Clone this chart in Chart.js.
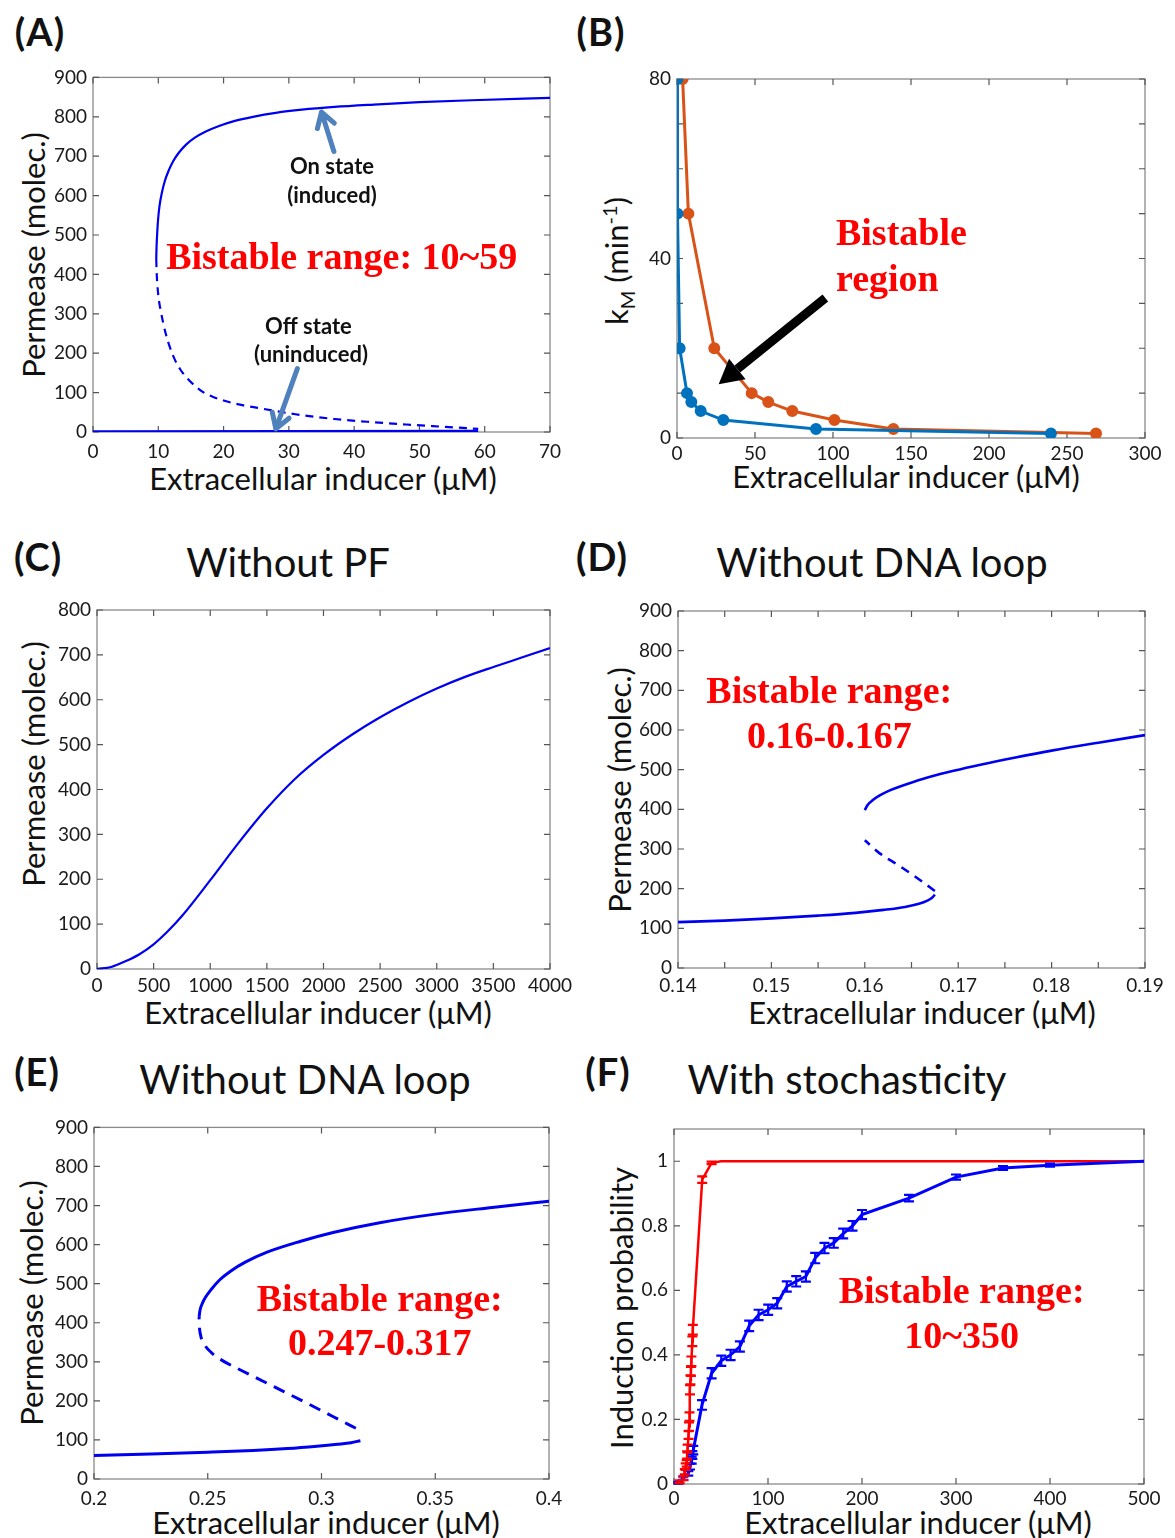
<!DOCTYPE html>
<html lang="en">
<head>
<meta charset="UTF-8">
<title>Bistability panels</title>
<script src="https://cdn.jsdelivr.net/npm/chart.js"></script>
<style>
  body { margin: 0; background: #fff; width: 1175px; height: 1538px; position: relative; overflow: hidden;
         font-family: Lato, "Open Sans", sans-serif; color: #111; }
  canvas { position: absolute; }
  .lbl { position: absolute; white-space: nowrap; transform: translate(-50%, -50%); line-height: 1; }
  .panel { font-weight: bold; font-size: 38px; letter-spacing: 1px; }
  .ttl { font-size: 40px; }
  .xt { font-size: 31px; }
  .yt { font-size: 31px; transform: translate(-50%, -50%) rotate(-90deg); }
  .yt sub, .yt sup { font-size: 20px; }
</style>
</head>
<body>

<div class="lbl panel" style="left:40px;top:31px">(A)</div>
<div class="lbl panel" style="left:601px;top:31px">(B)</div>
<div class="lbl panel" style="left:38px;top:556px">(C)</div>
<div class="lbl panel" style="left:602px;top:556px">(D)</div>
<div class="lbl panel" style="left:37px;top:1071px">(E)</div>
<div class="lbl panel" style="left:608px;top:1071px">(F)</div>

<div class="lbl ttl" style="left:288px;top:562px">Without PF</div>
<div class="lbl ttl" style="left:882px;top:562px">Without DNA loop</div>
<div class="lbl ttl" style="left:305px;top:1079px">Without DNA loop</div>
<div class="lbl ttl" style="left:847px;top:1079px">With stochasticity</div>

<div class="lbl xt" style="left:323px;top:478px">Extracellular inducer (μM)</div>
<div class="lbl xt" style="left:906px;top:476px">Extracellular inducer (μM)</div>
<div class="lbl xt" style="left:318px;top:1012px">Extracellular inducer (μM)</div>
<div class="lbl xt" style="left:922px;top:1012px">Extracellular inducer (μM)</div>
<div class="lbl xt" style="left:326px;top:1522px">Extracellular inducer (μM)</div>
<div class="lbl xt" style="left:918px;top:1522px">Extracellular inducer (μM)</div>

<div class="lbl yt" style="left:33px;top:255px">Permease (molec.)</div>
<div class="lbl yt" style="left:618px;top:261px">k<sub>M</sub> (min<sup>-1</sup>)</div>
<div class="lbl yt" style="left:33px;top:764px">Permease (molec.)</div>
<div class="lbl yt" style="left:619px;top:790px">Permease (molec.)</div>
<div class="lbl yt" style="left:31px;top:1303px">Permease (molec.)</div>
<div class="lbl yt" style="left:621px;top:1308px">Induction probability</div>

<canvas id="chartA"></canvas>
<canvas id="chartB"></canvas>
<canvas id="chartC"></canvas>
<canvas id="chartD"></canvas>
<canvas id="chartE"></canvas>
<canvas id="chartF"></canvas>

<script>
// ---------- data ----------

// (A) with DNA loop + PF
const aTicksX = [0, 10, 20, 30, 40, 50, 60, 70];
const aLabelsX = ['0', '10', '20', '30', '40', '50', '60', '70'];
const aTicksY = [0, 100, 200, 300, 400, 500, 600, 700, 800, 900];
const aLabelsY = ['0', '100', '200', '300', '400', '500', '600', '700', '800', '900'];
const aOnX = [9.69, 9.72, 9.78, 9.85, 10.0, 10.2, 10.55, 11.0, 11.6, 12.3, 13.2, 14.3, 15.6, 17.2, 19.2, 21.6, 24.5, 28, 32, 37, 43, 50, 58, 70];
const aOnY = [439, 462, 487, 510, 545, 575, 607, 637, 664, 688, 710, 730, 747, 762, 776, 789, 800, 810, 818, 825, 831, 837, 842, 848];
const aUnstX = [9.69, 9.75, 9.85, 10.05, 10.36, 10.75, 11.2, 11.8, 12.5, 13.4, 14.5, 15.7, 17, 18.4, 20, 22.3, 25, 28, 31, 34, 37, 42, 48, 54, 59];
const aUnstY = [439, 405, 376, 340, 309, 277, 246, 214, 185, 158, 135, 116, 100, 89, 80, 70, 62, 53, 45, 38.5, 33, 26, 19, 13, 8];
const aOffX = [0, 30, 59];
const aOffY = [1.5, 2, 3];

// (B) kM vs inducer, two boundary curves
const bTicksX = [0, 50, 100, 150, 200, 250, 300];
const bLabelsX = ['0', '50', '100', '150', '200', '250', '300'];
const bTicksY = [0, 10, 20, 30, 40, 50, 60, 70, 80];
const bLabelsY = ['0', '', '', '', '40', '', '', '', '80'];
const bKm = [80, 50, 20, 10, 8, 6, 4, 2, 1];
const bBlueX = [0.3, 0.3, 1.7, 6.4, 9.2, 15.2, 29.7, 89.1, 239.7];
const bOrangeX = [3.6, 7.3, 23.9, 47.9, 58.5, 73.9, 100.9, 138.7, 268.6];

// (C) without positive feedback
const cTicksX = [0, 500, 1000, 1500, 2000, 2500, 3000, 3500, 4000];
const cLabelsX = ['0', '500', '1000', '1500', '2000', '2500', '3000', '3500', '4000'];
const cTicksY = [0, 100, 200, 300, 400, 500, 600, 700, 800];
const cLabelsY = ['0', '100', '200', '300', '400', '500', '600', '700', '800'];
const cX = [0, 125, 250, 375, 500, 625, 750, 1000, 1250, 1500, 1750, 2000, 2250, 2500, 2750, 3000, 3250, 3500, 3750, 4000];
const cY = [0, 4.5, 17, 33, 55, 84, 118, 198, 281, 358, 424, 477, 522, 561, 595, 625, 651, 673, 694, 715];

// (D) without DNA loop
const dTicksX = [0.14, 0.145, 0.15, 0.155, 0.16, 0.165, 0.17, 0.175, 0.18, 0.185, 0.19];
const dLabelsX = ['0.14', '', '0.15', '', '0.16', '', '0.17', '', '0.18', '', '0.19'];
const dTicksY = [0, 100, 200, 300, 400, 500, 600, 700, 800, 900];
const dLabelsY = ['0', '100', '200', '300', '400', '500', '600', '700', '800', '900'];
const dLowX = [0.14, 0.145, 0.15, 0.155, 0.159, 0.162, 0.1643, 0.1658, 0.1667, 0.1672, 0.1675];
const dLowY = [115.6, 119.5, 125, 132, 139, 146.5, 154, 162, 170, 177, 185];
const dUnstX = [0.1675, 0.1659, 0.1638, 0.1616, 0.16];
const dUnstY = [194, 222, 256, 289, 322];
const dUpX = [0.16, 0.1603, 0.1609, 0.1616, 0.1625, 0.1637, 0.1652, 0.167, 0.1695, 0.1725, 0.176, 0.18, 0.185, 0.19];
const dUpY = [398, 411, 424, 435, 446, 457, 469, 482, 497, 513, 530, 548, 568, 587];

// (E) without DNA loop, second parameter set
const eTicksX = [0.2, 0.25, 0.3, 0.35, 0.4];
const eLabelsX = ['0.2', '0.25', '0.3', '0.35', '0.4'];
const eTicksY = [0, 100, 200, 300, 400, 500, 600, 700, 800, 900];
const eLabelsY = ['0', '100', '200', '300', '400', '500', '600', '700', '800', '900'];
const eLowX = [0.2, 0.225, 0.25, 0.27, 0.285, 0.298, 0.307, 0.313, 0.3171];
const eLowY = [60.4, 64, 68.5, 73, 78, 84, 89, 93, 98];
const eUnstX = [0.3151, 0.305, 0.294, 0.283, 0.272, 0.263, 0.2565, 0.2517, 0.2485, 0.2468, 0.2463, 0.2462];
const eUnstY = [130, 160, 193, 225, 257, 283, 303, 323, 345, 370, 395, 415];
const eUpX = [0.2462, 0.2466, 0.2475, 0.249, 0.2515, 0.2553, 0.26, 0.2665, 0.2758, 0.2905, 0.3051, 0.3256, 0.35, 0.375, 0.4];
const eUpY = [415, 432, 448, 465, 485, 510, 532, 555, 580, 608, 631, 656, 678, 695, 711];

// (F) stochastic simulation
const fTicksX = [0, 100, 200, 300, 400, 500];
const fLabelsX = ['0', '100', '200', '300', '400', '500'];
const fTicksY = [0, 0.2, 0.4, 0.6, 0.8, 1];
const fLabelsY = ['0', '0.2', '0.4', '0.6', '0.8', '1'];
const fRedX = [0, 6, 10, 11.5, 12.5, 13.5, 14, 14.5, 15.5, 16, 16.5, 17, 17.5, 18, 18.5, 19.5, 20, 30, 40, 50, 500];
const fRedY = [0, 0.007, 0.018, 0.038, 0.054, 0.064, 0.09, 0.11, 0.152, 0.178, 0.209, 0.292, 0.323, 0.349, 0.38, 0.442, 0.478, 0.943, 0.995, 1, 1];
const fRedErr = [0, 0.004, 0.006, 0.008, 0.01, 0.01, 0.011, 0.012, 0.012, 0.013, 0.013, 0.014, 0.014, 0.014, 0.015, 0.015, 0.015, 0.01, 0.004, 0, 0];
const fBlueX = [0, 4.6, 9.9, 15.2, 17, 18.8, 19.5, 20.5, 29.8, 40, 50.3, 60.2, 70.1, 80, 90, 100.2, 109.8, 120, 130, 140.3, 150.2, 160.1, 170, 180, 189.9, 200, 250, 300, 350, 400, 500];
const fBlueY = [0, 0.004, 0.018, 0.033, 0.054, 0.074, 0.09, 0.105, 0.245, 0.343, 0.382, 0.4, 0.426, 0.49, 0.524, 0.54, 0.56, 0.612, 0.628, 0.643, 0.7, 0.731, 0.747, 0.776, 0.8, 0.835, 0.886, 0.951, 0.979, 0.988, 1];
const fBlueErr = [0, 0.003, 0.005, 0.007, 0.009, 0.011, 0.012, 0.013, 0.015, 0.016, 0.016, 0.016, 0.016, 0.016, 0.016, 0.016, 0.016, 0.016, 0.016, 0.016, 0.016, 0.016, 0.015, 0.015, 0.015, 0.014, 0.01, 0.008, 0.006, 0.005, 0];

// ---------- plugins ----------

// MATLAB like box with inward ticks on all 4 sides
const boxPlugin = {
  id: 'matlabBox',
  beforeDatasetsDraw(chart) {
    const { ctx, chartArea: a, scales: { x, y } } = chart;
    ctx.save();
    ctx.strokeStyle = '#8a8a8a';
    ctx.lineWidth = 1.3;
    ctx.strokeRect(a.left, a.top, a.right - a.left, a.bottom - a.top);
    ctx.strokeStyle = '#555';
    ctx.lineWidth = 1.2;
    ctx.beginPath();
    x.ticks.forEach(t => {
      const px = x.getPixelForValue(t.value);
      ctx.moveTo(px, a.bottom); ctx.lineTo(px, a.bottom - 6);
      ctx.moveTo(px, a.top); ctx.lineTo(px, a.top + 6);
    });
    y.ticks.forEach(t => {
      const py = y.getPixelForValue(t.value);
      ctx.moveTo(a.left, py); ctx.lineTo(a.left + 6, py);
      ctx.moveTo(a.right, py); ctx.lineTo(a.right - 6, py);
    });
    ctx.stroke();
    ctx.restore();
  }
};

// vertical error bars, values kept in dataset.errY
const errorBarPlugin = {
  id: 'errBars',
  afterDatasetsDraw(chart) {
    const ctx = chart.ctx, ys = chart.scales.y;
    chart.data.datasets.forEach((ds, i) => {
      if (!ds.errY) return;
      const meta = chart.getDatasetMeta(i);
      ctx.save();
      ctx.strokeStyle = ds.borderColor;
      ctx.lineWidth = 2.2;
      meta.data.forEach((pt, j) => {
        const e = ds.errY[j];
        if (!e) return;
        const v = ds.data[j].y;
        const y1 = ys.getPixelForValue(v - e), y2 = ys.getPixelForValue(v + e);
        const w = 5;
        ctx.beginPath();
        ctx.moveTo(pt.x, y1); ctx.lineTo(pt.x, y2);
        ctx.moveTo(pt.x - w, y1); ctx.lineTo(pt.x + w, y1);
        ctx.moveTo(pt.x - w, y2); ctx.lineTo(pt.x + w, y2);
        ctx.stroke();
      });
      ctx.restore();
    });
  }
};

// text and arrows placed in data coordinates
const notesPlugin = {
  id: 'notes',
  afterDatasetsDraw(chart, args, opts) {
    const items = opts.items || [];
    const { ctx, scales: { x, y } } = chart;
    items.forEach(n => {
      ctx.save();
      if (n.type === 'text') {
        ctx.font = n.font;
        ctx.fillStyle = n.color;
        ctx.textAlign = n.align || 'center';
        ctx.textBaseline = 'middle';
        ctx.fillText(n.text, x.getPixelForValue(n.at[0]), y.getPixelForValue(n.at[1]));
      } else if (n.type === 'arrow') {
        const x1 = x.getPixelForValue(n.from[0]), y1 = y.getPixelForValue(n.from[1]);
        const x2 = x.getPixelForValue(n.to[0]), y2 = y.getPixelForValue(n.to[1]);
        const ang = Math.atan2(y2 - y1, x2 - x1);
        const s = n.size;
        ctx.strokeStyle = n.color;
        ctx.fillStyle = n.color;
        ctx.lineWidth = n.width;
        ctx.lineCap = 'round';
        ctx.lineJoin = 'round';
        if (n.head === 'filled') {
          const bx = x2 - s * Math.cos(ang), by = y2 - s * Math.sin(ang);
          ctx.lineCap = 'butt';
          ctx.beginPath();
          ctx.moveTo(x1, y1); ctx.lineTo(bx, by);
          ctx.stroke();
          ctx.beginPath();
          ctx.moveTo(x2, y2);
          ctx.lineTo(bx + s * 0.55 * Math.sin(ang), by - s * 0.55 * Math.cos(ang));
          ctx.lineTo(bx - s * 0.55 * Math.sin(ang), by + s * 0.55 * Math.cos(ang));
          ctx.closePath();
          ctx.fill();
        } else {
          ctx.beginPath();
          ctx.moveTo(x1, y1); ctx.lineTo(x2, y2);
          ctx.moveTo(x2 - s * Math.cos(ang - 0.55), y2 - s * Math.sin(ang - 0.55));
          ctx.lineTo(x2, y2);
          ctx.lineTo(x2 - s * Math.cos(ang + 0.55), y2 - s * Math.sin(ang + 0.55));
          ctx.stroke();
        }
      }
      ctx.restore();
    });
  }
};

Chart.register(boxPlugin, errorBarPlugin, notesPlugin);

// ---------- helpers ----------

function curve(xs, ys, color, width, dash, extra) {
  return Object.assign({
    data: xs.map((v, i) => ({ x: v, y: ys[i] })),
    showLine: true,
    borderColor: color,
    backgroundColor: color,
    borderWidth: width,
    borderDash: dash || [],
    pointRadius: 0,
    cubicInterpolationMode: 'monotone'
  }, extra || {});
}

function axis(ticks, labels, isX, size, pad, max) {
  return {
    type: 'linear',
    min: ticks[0],
    max: max !== undefined ? max : ticks[ticks.length - 1],
    afterBuildTicks: s => { s.ticks = ticks.map(v => ({ value: v })); },
    afterFit: s => { if (isX) s.height = size; else s.width = size; },
    grid: { display: false, drawTicks: false },
    border: { display: false },
    ticks: {
      autoSkip: false, maxRotation: 0, padding: pad,
      color: '#1a1a1a', font: { family: 'Lato', size: 19 },
      callback: (v, i) => labels[i]
    }
  };
}

function panel(id, box, area, datasets, xAxis, yAxis, notes) {
  const cv = document.getElementById(id);
  cv.width = box.w; cv.height = box.h;
  cv.style.left = box.x + 'px';
  cv.style.top = box.y + 'px';
  const yw = area.l - box.x;
  const xh = box.y + box.h - area.b;
  return new Chart(cv, {
    type: 'scatter',
    data: { datasets: datasets },
    options: {
      responsive: false,
      animation: false,
      devicePixelRatio: 1,
      layout: { padding: { left: 0, top: area.t - box.y, right: box.x + box.w - area.r, bottom: 0 } },
      plugins: { legend: { display: false }, tooltip: { enabled: false }, notes: { items: notes || [] } },
      scales: {
        x: axis(xAxis[0], xAxis[1], true, xh, area.xpad),
        y: axis(yAxis[0], yAxis[1], false, yw, 6, yAxis[2])
      }
    }
  });
}

const BLUE = '#0000f0';
const RED_TXT = 'bold 38px "Liberation Serif", "Times New Roman", serif';
const NOTE_TXT = 'bold 22px Lato, sans-serif';
const ARROW_BLUE = '#4f81bd';
const STRAIGHT = { cubicInterpolationMode: 'default', tension: 0 };

// (A)
panel('chartA', { x: 0, y: 60, w: 580, h: 440 }, { l: 93, r: 550, t: 76, b: 432, xpad: 8 },
  [
    curve(aOffX, aOffY, BLUE, 2.2, null, STRAIGHT),
    curve(aUnstX, aUnstY, BLUE, 2.2, [8, 6]),
    curve(aOnX, aOnY, BLUE, 2.2)
  ],
  [aTicksX, aLabelsX], [aTicksY, aLabelsY],
  [
    { type: 'arrow', from: [36.9, 712], to: [35.0, 812], color: ARROW_BLUE, width: 5, size: 17, head: 'open' },
    { type: 'arrow', from: [31.3, 161], to: [28.0, 8], color: ARROW_BLUE, width: 5, size: 17, head: 'open' },
    { type: 'text', text: 'On state', at: [36.6, 672], font: NOTE_TXT, color: '#111' },
    { type: 'text', text: '(induced)', at: [36.6, 599], font: NOTE_TXT, color: '#111' },
    { type: 'text', text: 'Off state', at: [33.0, 267], font: NOTE_TXT, color: '#111' },
    { type: 'text', text: '(uninduced)', at: [33.4, 195], font: NOTE_TXT, color: '#111' },
    { type: 'text', text: 'Bistable range: 10~59', at: [38.1, 439], font: RED_TXT, color: '#ff0000' }
  ]);

// (B)
panel('chartB', { x: 580, y: 60, w: 595, h: 440 }, { l: 677, r: 1145, t: 79, b: 438, xpad: 4 },
  [
    curve(bBlueX, bKm, '#0072bd', 3, null, Object.assign({ pointRadius: 4.5 }, STRAIGHT)),
    curve(bOrangeX, bKm, '#d95319', 3, null, Object.assign({ pointRadius: 4.5 }, STRAIGHT))
  ],
  [bTicksX, bLabelsX], [bTicksY, bLabelsY],
  [
    { type: 'arrow', from: [95.1, 31.2], to: [26.7, 12.0], color: '#000', width: 9, size: 24, head: 'filled' },
    { type: 'text', text: 'Bistable', at: [101.9, 45.3], font: RED_TXT, color: '#ff0000', align: 'left' },
    { type: 'text', text: 'region', at: [101.9, 34.9], font: RED_TXT, color: '#ff0000', align: 'left' }
  ]);

// (C)
panel('chartC', { x: 0, y: 590, w: 580, h: 440 }, { l: 97, r: 550, t: 610, b: 969, xpad: 5 },
  [curve(cX, cY, BLUE, 2.2)],
  [cTicksX, cLabelsX], [cTicksY, cLabelsY]);

// (D)
panel('chartD', { x: 580, y: 590, w: 595, h: 440 }, { l: 678, r: 1145, t: 611, b: 968, xpad: 6 },
  [
    curve(dLowX, dLowY, BLUE, 2.6),
    curve(dUnstX, dUnstY, BLUE, 2.6, [9, 7]),
    curve(dUpX, dUpY, BLUE, 2.6)
  ],
  [dTicksX, dLabelsX], [dTicksY, dLabelsY],
  [
    { type: 'text', text: 'Bistable range:', at: [0.1562, 694], font: RED_TXT, color: '#ff0000' },
    { type: 'text', text: '0.16-0.167', at: [0.1562, 580], font: RED_TXT, color: '#ff0000' }
  ]);

// (E)
panel('chartE', { x: 0, y: 1110, w: 580, h: 428 }, { l: 94, r: 549, t: 1127, b: 1479, xpad: 8 },
  [
    curve(eLowX, eLowY, BLUE, 3),
    curve(eUnstX, eUnstY, BLUE, 3, [12, 8]),
    curve(eUpX, eUpY, BLUE, 3)
  ],
  [eTicksX, eLabelsX], [eTicksY, eLabelsY],
  [
    { type: 'text', text: 'Bistable range:', at: [0.3256, 454], font: RED_TXT, color: '#ff0000' },
    { type: 'text', text: '0.247-0.317', at: [0.3256, 343], font: RED_TXT, color: '#ff0000' }
  ]);

// (F)
panel('chartF', { x: 580, y: 1110, w: 595, h: 428 }, { l: 674, r: 1144, t: 1129, b: 1484, xpad: 3 },
  [
    curve(fBlueX, fBlueY, '#0000ff', 3, null, Object.assign({ errY: fBlueErr }, STRAIGHT)),
    curve(fRedX, fRedY, '#ff0000', 2.5, null, Object.assign({ errY: fRedErr }, STRAIGHT))
  ],
  [fTicksX, fLabelsX], [fTicksY, fLabelsY, 1.1],
  [
    { type: 'text', text: 'Bistable range:', at: [306, 0.592], font: RED_TXT, color: '#ff0000' },
    { type: 'text', text: '10~350', at: [306, 0.452], font: RED_TXT, color: '#ff0000' }
  ]);
</script>
</body>
</html>
